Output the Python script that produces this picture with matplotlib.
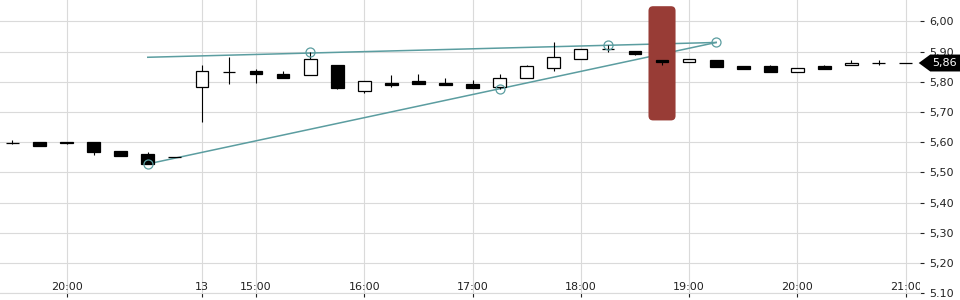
import numpy as np
import matplotlib
matplotlib.use('Agg')
import matplotlib.pyplot as plt
import matplotlib.transforms as mtransforms
from matplotlib.patches import FancyBboxPatch, Polygon

# свечи по 15 минут, ось x - номер свечи
opens = [5.596, 5.600, 5.600, 5.600, 5.571, 5.560, 5.551, 5.781, 5.831, 5.835,
         5.825, 5.821, 5.855, 5.771, 5.796, 5.802, 5.796, 5.792, 5.781, 5.811,
         5.844, 5.874, 5.907, 5.902, 5.871, 5.864, 5.871, 5.851, 5.851, 5.831,
         5.851, 5.854, 5.862, 5.862]
highs = [5.607, 5.600, 5.600, 5.600, 5.571, 5.566, 5.551, 5.855, 5.881, 5.841,
         5.835, 5.897, 5.855, 5.802, 5.822, 5.825, 5.811, 5.806, 5.825, 5.855,
         5.931, 5.907, 5.922, 5.902, 5.871, 5.874, 5.871, 5.851, 5.854, 5.844,
         5.854, 5.871, 5.871, 5.862]
lows = [5.595, 5.588, 5.595, 5.557, 5.555, 5.528, 5.551, 5.668, 5.793, 5.797,
        5.813, 5.821, 5.776, 5.764, 5.783, 5.793, 5.790, 5.780, 5.777, 5.811,
        5.836, 5.874, 5.900, 5.887, 5.854, 5.864, 5.850, 5.843, 5.831, 5.831,
        5.843, 5.854, 5.854, 5.862]
closes = [5.596, 5.588, 5.596, 5.568, 5.555, 5.528, 5.551, 5.834, 5.831, 5.824,
          5.813, 5.875, 5.780, 5.802, 5.789, 5.793, 5.790, 5.780, 5.811, 5.851,
          5.881, 5.907, 5.907, 5.891, 5.864, 5.874, 5.850, 5.843, 5.831, 5.844,
          5.843, 5.862, 5.862, 5.862]

tick_pos = [2, 7, 9, 13, 17, 21, 25, 29, 33]
tick_labels = ['20:00', '13', '15:00', '16:00', '17:00', '18:00', '19:00', '20:00', '21:00']
y_ticks = [5.1, 5.2, 5.3, 5.4, 5.5, 5.6, 5.7, 5.8, 5.9, 6.0]
y_labels = ['5.10', '5,20', '5,30', '5,40', '5,50', '5,60', '5,70', '5,80', '5,90', '6,00']

# линии треугольника
upper_x = [5, 26]
upper_y = [5.881, 5.930]
lower_x = [5, 26]
lower_y = [5.528, 5.930]
pivot_x = [5, 11, 18, 22, 26]
pivot_y = [5.528, 5.897, 5.775, 5.922, 5.930]

highlight_i = 24
highlight_lo, highlight_hi = 5.672, 6.050
last_price = 5.862
last_label = '5,86'

teal = '#5b9da0'
grid_c = '#dadada'

fig = plt.figure(figsize=(9.6, 3.0), dpi=100)
ax = fig.add_axes([0, 0.0223, 0.958, 0.9777])

x = np.arange(len(opens))
o = np.array(opens)
c = np.array(closes)
up = c >= o

ax.vlines(x, lows, highs, color='black', lw=0.8, zorder=4)
ax.bar(x, np.abs(c - o), bottom=np.minimum(o, c), width=0.47,
       color=np.where(up, 'white', 'black'), edgecolor='black', lw=0.9, zorder=5)

ax.plot(upper_x, upper_y, color=teal, lw=1.1, zorder=2)
ax.plot(lower_x, lower_y, color=teal, lw=1.1, zorder=2)
ax.plot(pivot_x, pivot_y, 'o', ms=6.5, mfc='none', mec=teal, mew=0.9, zorder=6)

# красная подсветка свечи
rect = FancyBboxPatch((highlight_i - 0.5, highlight_lo), 1.0, highlight_hi - highlight_lo,
                      boxstyle='round,pad=0,rounding_size=0.17', mutation_aspect=0.0896,
                      fc='#983c36', ec='none', zorder=3)
ax.add_patch(rect)

ax.set_xlim(-0.46, 33.52)
ax.set_ylim(5.10, 6.0705)

ax.set_xticks(tick_pos)
ax.set_xticklabels(tick_labels)
ax.set_yticks(y_ticks)
ax.set_yticklabels(y_labels)
ax.yaxis.tick_right()
ax.tick_params(axis='x', direction='out', length=3, width=0.8, pad=-11,
               labelsize=8, colors='#222222')
ax.tick_params(axis='y', direction='out', length=3, width=0.8, pad=4,
               labelsize=8, colors='#222222')
for lbl in ax.get_xticklabels():
    lbl.set_clip_on(True)
    lbl.set_clip_box(ax.bbox)

ax.grid(True, color=grid_c, lw=0.8, zorder=0)
ax.set_axisbelow(True)
for s in ['top', 'left', 'right']:
    ax.spines[s].set_visible(False)
ax.spines['bottom'].set_color(grid_c)
ax.spines['bottom'].set_linewidth(0.8)

# метка последней цены
tr = mtransforms.blended_transform_factory(fig.transFigure, ax.transData)
h = 0.028
tag = Polygon([(0.957, last_price), (0.969, last_price + h), (1.0, last_price + h),
               (1.0, last_price - h), (0.969, last_price - h)],
              closed=True, fc='black', ec='none', transform=tr, clip_on=False, zorder=10)
fig.add_artist(tag)
fig.text(0.984, last_price, last_label, transform=tr, color='white', fontsize=8,
         ha='center', va='center', zorder=11)

fig.savefig('out.png', dpi=100)
